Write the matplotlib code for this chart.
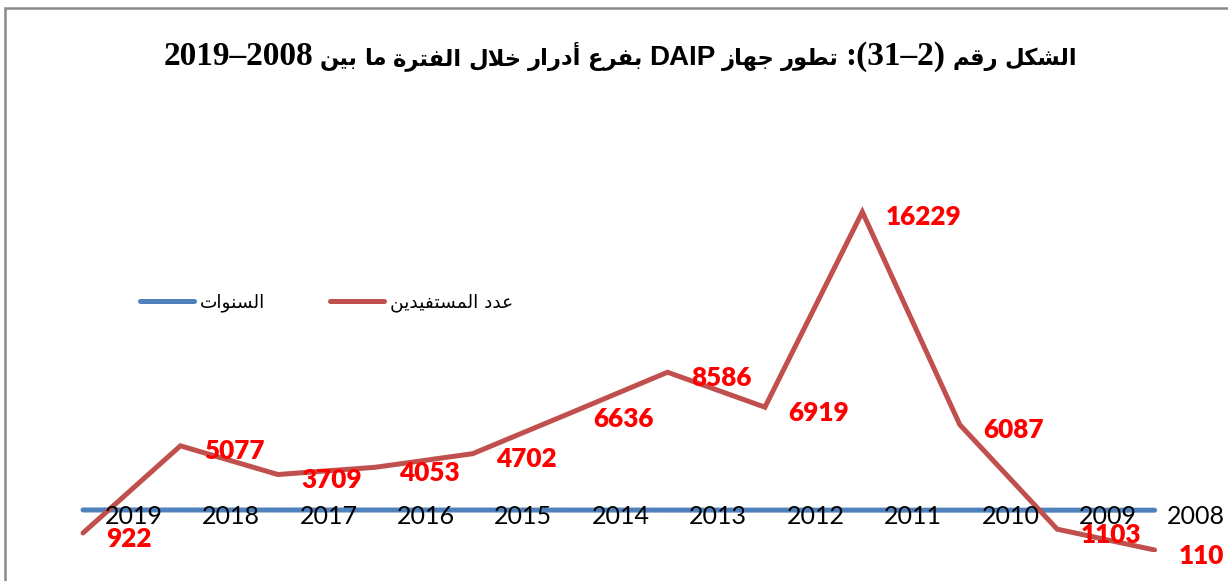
import re
import numpy as np
import matplotlib
matplotlib.use("Agg")
import matplotlib.pyplot as plt
from matplotlib.lines import Line2D
from matplotlib.patches import Rectangle

# ---------------- data ----------------
years = [2019, 2018, 2017, 2016, 2015, 2014, 2013, 2012, 2011, 2010, 2009, 2008]
beneficiaries = [922, 5077, 3709, 4053, 4702, 6636, 8586, 6919, 16229, 6087, 1103, 110]
year_labels = [str(y) for y in years]
series_names = ["السنوات", "عدد المستفيدين"]
title_text = "الشكل رقم (2–31): تطور جهاز DAIP بفرع أدرار خلال الفترة ما بين 2008–2019"

# ---------------- minimal Arabic shaping + bidi ----------------
FORMS = {
    '\u0627': ('\uFE8D', '\uFE8E'), '\u0623': ('\uFE83', '\uFE84'),
    '\u0625': ('\uFE87', '\uFE88'), '\u0622': ('\uFE81', '\uFE82'),
    '\u0629': ('\uFE93', '\uFE94'), '\u062F': ('\uFEA9', '\uFEAA'),
    '\u0630': ('\uFEAB', '\uFEAC'), '\u0631': ('\uFEAD', '\uFEAE'),
    '\u0632': ('\uFEAF', '\uFEB0'), '\u0648': ('\uFEED', '\uFEEE'),
    '\u0649': ('\uFEEF', '\uFEF0'),
}
_dual = [('\u0628', 0xFE8F), ('\u062A', 0xFE95), ('\u062B', 0xFE99), ('\u062C', 0xFE9D),
         ('\u062D', 0xFEA1), ('\u062E', 0xFEA5), ('\u0633', 0xFEB1), ('\u0634', 0xFEB5),
         ('\u0635', 0xFEB9), ('\u0636', 0xFEBD), ('\u0637', 0xFEC1), ('\u0638', 0xFEC5),
         ('\u0639', 0xFEC9), ('\u063A', 0xFECD), ('\u0641', 0xFED1), ('\u0642', 0xFED5),
         ('\u0643', 0xFED9), ('\u0644', 0xFEDD), ('\u0645', 0xFEE1), ('\u0646', 0xFEE5),
         ('\u0647', 0xFEE9), ('\u064A', 0xFEF1)]
for ch, base in _dual:
    FORMS[ch] = tuple(chr(base + k) for k in range(4))
LAM_ALEF = {'\u0627': ('\uFEFB', '\uFEFC'), '\u0623': ('\uFEF7', '\uFEF8'),
            '\u0625': ('\uFEF9', '\uFEFA'), '\u0622': ('\uFEF5', '\uFEF6')}


def _joins_next(c):
    return c in FORMS and len(FORMS[c]) == 4


def shape(s):
    out, i, n = [], 0, len(s)
    while i < n:
        c = s[i]
        if c not in FORMS:
            out.append(c); i += 1; continue
        prev = s[i - 1] if i > 0 else None
        conn_prev = prev is not None and _joins_next(prev)
        if c == '\u0644' and i + 1 < n and s[i + 1] in LAM_ALEF:
            out.append(LAM_ALEF[s[i + 1]][1 if conn_prev else 0]); i += 2; continue
        nxt = s[i + 1] if i + 1 < n else None
        conn_next = _joins_next(c) and nxt is not None and nxt in FORMS
        f = FORMS[c]
        if conn_prev and conn_next:
            g = f[3]
        elif conn_prev:
            g = f[1]
        elif conn_next:
            g = f[2]
        else:
            g = f[0]
        out.append(g); i += 1
    return ''.join(out)


MIRROR = {'(': ')', ')': '('}


def rtl(s):
    s = shape(s)
    tokens = re.findall(r'[A-Za-z0-9]+|.', s)
    tokens = [MIRROR.get(t, t) for t in tokens[::-1]]
    return ''.join(tokens)


# ---------------- figure ----------------
W, H, DPI = 1228, 581, 100
fig = plt.figure(figsize=(W / DPI, H / DPI), dpi=DPI)
fig.patch.set_facecolor('white')

# chart-area border (partly cropped on right / bottom)
fig.add_artist(Rectangle((5.3 / W, -0.02), 1.05, (H - 7.5) / H + 0.02,
                         transform=fig.transFigure, fill=False,
                         edgecolor='#898989', linewidth=1.8))

ax_left, ax_right = 34.3, 1203.3
ax_bottom, ax_top = 552.3, 174.8
ax = fig.add_axes([ax_left / W, (H - ax_bottom) / H,
                   (ax_right - ax_left) / W, (ax_bottom - ax_top) / H])
ax.set_xlim(-0.5, len(years) - 0.5)
ax.set_ylim(0, 18000)
ax.set_axis_off()

x = np.arange(len(years))
blue = '#4F81BD'
red = '#C0504D'
ax.plot(x, years, color=blue, lw=3.6, solid_capstyle='round', zorder=2)
ax.plot(x, beneficiaries, color=red, lw=3.6, solid_capstyle='round',
        solid_joinstyle='miter', zorder=3)

# category labels (Excel-like offset between points)
label_pos = np.minimum(x + 0.52, len(years) - 1 + 0.42)
for xp, lab in zip(label_pos, year_labels):
    ax.text(xp, 0.0948, lab, transform=ax.get_xaxis_transform(),
            ha='center', va='center', fontsize=18, family='Lato',
            color='black', zorder=4)

# data labels
for xi, v in zip(x, beneficiaries):
    ax.annotate(str(v), (xi, v), xytext=(17.0, -4), textcoords='offset points',
                ha='left', va='center', fontsize=18.8, fontweight='heavy',
                family='Lato', color='#FF0000', zorder=5)

# legend
handles = [Line2D([], [], color=blue, lw=3.6, solid_capstyle='round'),
           Line2D([], [], color=red, lw=3.6, solid_capstyle='round')]
fig.legend(handles, [rtl(s) for s in series_names], loc='center left',
           bbox_to_anchor=(140 / W, (H - 303) / H), ncol=2, frameon=False,
           prop={'family': 'DejaVu Sans', 'size': 13.3}, borderpad=0,
           borderaxespad=0, handlelength=2.95, handletextpad=0.3,
           columnspacing=3.5)

# title: visual-order words, mixed fonts
visual = rtl(title_text)
words = visual.split(' ')
baseline_y = (H - 65) / H
texts = []
for w_ in words:
    if re.search('[\u0600-\u06FF\uFB50-\uFEFF]', w_):
        kw = dict(family='DejaVu Sans', fontsize=16.3, fontweight='bold')
    elif re.search('[A-Za-z]', w_):
        kw = dict(family='Liberation Sans', fontsize=20, fontweight='bold')
    else:
        kw = dict(family='Liberation Serif', fontsize=24, fontweight='bold')
    texts.append(fig.text(0, baseline_y, w_, ha='left', va='baseline',
                          color='black', **kw))
fig.canvas.draw()
r = fig.canvas.get_renderer()
widths = [t.get_window_extent(r).width for t in texts]
gap = 6.5
total = sum(widths) + gap * (len(widths) - 1)
cx = 620.0
xpos = cx - total / 2
for t, wd in zip(texts, widths):
    t.set_x(xpos / W)
    xpos += wd + gap

fig.savefig('out.png', dpi=DPI, facecolor='white')
